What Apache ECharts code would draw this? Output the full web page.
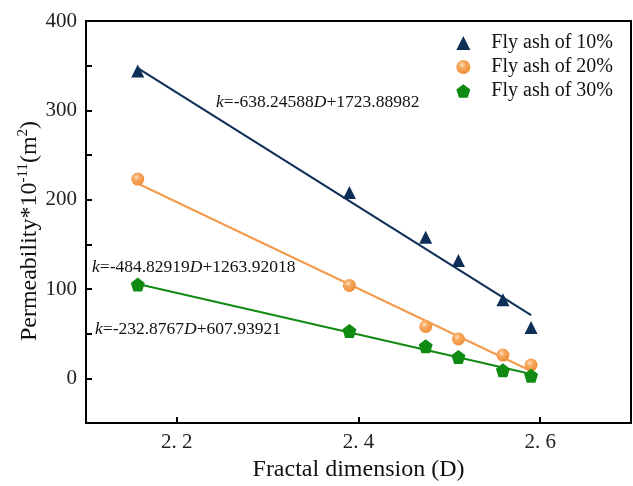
<!DOCTYPE html>
<html><head><meta charset="utf-8">
<script src="https://cdn.jsdelivr.net/npm/echarts@6/dist/echarts.min.js"></script>
<style>html,body{margin:0;padding:0;background:#fff}#c{width:633px;height:486px}</style>
</head><body><div id="c"></div>
<script>
var fractalD = [2.157, 2.39, 2.474, 2.51, 2.559, 2.59];
var fly10 = [344, 208, 158, 132, 88, 57];
var fly20 = [223, 104, 58, 44, 26, 15];
var fly30 = [105, 53, 36, 24, 9, 3];
var fitX = [2.157, 2.59];
var fit10 = [347.2, 70.8];
var fit20 = [218.1, 8.2];
var fit30 = [105.6, 4.8];
var seriesNames = ['Fly ash of 10%', 'Fly ash of 20%', 'Fly ash of 30%'];
var xTicks = [2.2, 2.4, 2.6];
var yTicks = [0, 100, 200, 300, 400];
var eqText = [
  ['k', '=-638.24588', 'D', '+1723.88982'],
  ['k', '=-484.82919', 'D', '+1263.92018'],
  ['k', '=-232.8767', 'D', '+607.93921']
];

var FONT = '"Liberation Serif","Times New Roman",serif';
var cNavy = '#0c2e57', cOrange = '#f59a4c', cGreen = '#0f8a12';

function pairs(xs, ys) { return xs.map(function (x, i) { return [x, ys[i]]; }); }
var pentagon = 'path://M0,-10 L9.51,-3.09 L5.88,8.09 L-5.88,8.09 L-9.51,-3.09 Z';
var orangeBall = {
  type: 'radial', x: 0.4, y: 0.35, r: 0.7,
  colorStops: [{offset: 0, color: '#fde0c0'}, {offset: 0.35, color: '#f7a860'}, {offset: 1, color: '#ee8a30'}]
};

function eqRich(parts) {
  return '{i|' + parts[0] + '}{n|' + parts[1] + '}{i|' + parts[2] + '}{n|' + parts[3] + '}';
}
var richEq = {
  i: {fontFamily: FONT, fontSize: 17.5, fontStyle: 'italic', fill: '#111'},
  n: {fontFamily: FONT, fontSize: 17.5, fill: '#111'}
};

var chart = echarts.init(document.getElementById('c'));
chart.setOption({
  animation: false,
  backgroundColor: '#fff',
  grid: {left: 86, top: 21, right: 2, bottom: 63, containLabel: false, outerBoundsMode: 'none',
    show: true, borderColor: '#000', borderWidth: 2},
  legend: {
    right: 15, top: 28, orient: 'vertical', itemGap: 4, itemWidth: 14, itemHeight: 14,
    textStyle: {fontFamily: FONT, fontSize: 20, color: '#111', padding: [0, 0, 0, 16]},
    data: [
      {name: seriesNames[0], icon: 'triangle'},
      {name: seriesNames[1], icon: 'circle'},
      {name: seriesNames[2], icon: pentagon}
    ]
  },
  xAxis: {
    type: 'value', min: 2.1, max: 2.7,
    name: 'Fractal dimension (D)', nameLocation: 'middle', nameGap: 34,
    nameTextStyle: {fontFamily: FONT, fontSize: 24, color: '#111'},
    axisLine: {show: true, onZero: false, lineStyle: {color: '#000', width: 2}},
    axisTick: {show: true, inside: true, length: 6, lineStyle: {color: '#000', width: 2}, customValues: xTicks},
    axisLabel: {fontFamily: FONT, fontSize: 21, color: '#222', margin: 9, customValues: xTicks,
      formatter: function (v) { return v.toFixed(1).replace('.', '. '); }},
    splitLine: {show: false}
  },
  yAxis: {
    type: 'value', min: -50, max: 400, interval: 50,
    name: 'Permeability*10{s|-11}(m{s|2})', nameLocation: 'middle', nameGap: 43, nameMoveOverlap: false,
    nameTextStyle: {fontFamily: FONT, fontSize: 24, color: '#111', padding: [0, 18, 0, 0],
      rich: {s: {fontFamily: FONT, fontSize: 15, color: '#111', verticalAlign: 'top', padding: [0, 0, 12, 0]}}},
    axisLine: {show: true, lineStyle: {color: '#000', width: 2}},
    axisTick: {show: true, inside: true, length: 6, lineStyle: {color: '#000', width: 2}},
    axisLabel: {fontFamily: FONT, fontSize: 21, color: '#222', margin: 9,
      formatter: function (v) { return yTicks.indexOf(v) >= 0 ? String(v) : ''; }},
    splitLine: {show: false}
  },
  series: [
    {name: seriesNames[0] + ' fit', type: 'line', data: pairs(fitX, fit10), symbol: 'none',
      lineStyle: {color: cNavy, width: 2}, z: 1, silent: true},
    {name: seriesNames[1] + ' fit', type: 'line', data: pairs(fitX, fit20), symbol: 'none',
      lineStyle: {color: cOrange, width: 2}, z: 1, silent: true},
    {name: seriesNames[2] + ' fit', type: 'line', data: pairs(fitX, fit30), symbol: 'none',
      lineStyle: {color: cGreen, width: 2}, z: 1, silent: true},
    {name: seriesNames[0], type: 'scatter', data: pairs(fractalD, fly10), symbol: 'triangle', symbolSize: 13,
      itemStyle: {color: cNavy, opacity: 1}, z: 3},
    {name: seriesNames[1], type: 'scatter', data: pairs(fractalD, fly20), symbol: 'circle', symbolSize: 13,
      itemStyle: {color: orangeBall, opacity: 1}, z: 3},
    {name: seriesNames[2], type: 'scatter', data: pairs(fractalD, fly30), symbol: pentagon, symbolSize: 14,
      itemStyle: {color: cGreen, opacity: 1}, z: 3}
  ],
  graphic: [
    {type: 'text', left: 216, top: 93, style: {text: eqRich(eqText[0]), rich: richEq}},
    {type: 'text', left: 92, top: 258, style: {text: eqRich(eqText[1]), rich: richEq}},
    {type: 'text', left: 95, top: 320, style: {text: eqRich(eqText[2]), rich: richEq}}
  ]
});
</script></body></html>
